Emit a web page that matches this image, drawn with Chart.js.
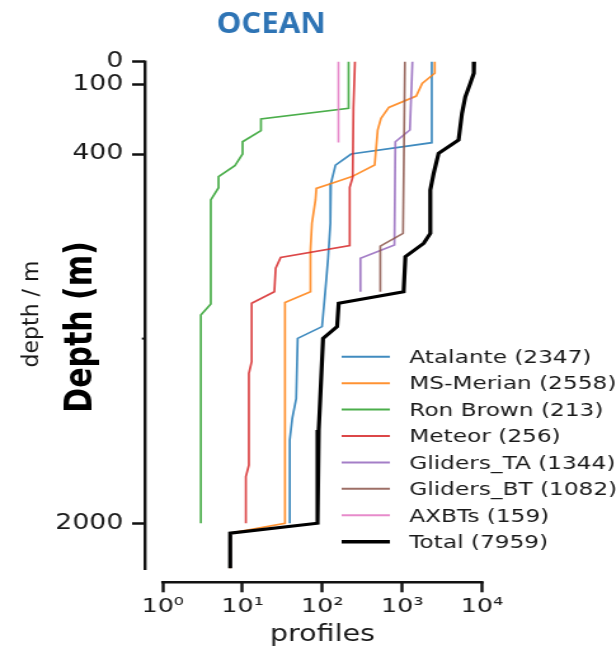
<!DOCTYPE html>
<html lang="en">

<head>
    <meta charset="UTF-8">
    <title>OCEAN</title>
    <script src="https://cdn.jsdelivr.net/npm/chart.js@4.4.1/dist/chart.umd.min.js"></script>
    <style>
        html, body { margin: 0; padding: 0; background: #fff; overflow: hidden; }
        /* the reference is stretched sideways, so the canvas is too */
        #grafico { display: block; transform: scaleX(1.27); transform-origin: 0 0; }
    </style>
</head>

<body>
    <canvas id="grafico" width="485" height="648"></canvas>

<script>
    // series names and profile counts (legend)
    const seriesNames = ['Atalante', 'MS-Merian', 'Ron Brown', 'Meteor', 'Gliders_TA', 'Gliders_BT', 'AXBTs', 'Total'];
    const seriesCounts = [2347, 2558, 213, 256, 1344, 1082, 159, 7959];

    // depth (m) / number of profiles reaching that depth
    const atalanteDepth = [0, 351, 400, 448, 527, 700, 850, 990, 1148, 1199, 1460, 1545, 1640, 2000];
    const atalanteProfiles = [2347, 2347, 229, 146, 128, 126, 118, 109, 99, 49, 47, 42, 39, 39];

    const merianDepth = [0, 50, 94, 149, 198, 245, 296, 448, 498, 527, 549, 599, 700, 816, 997, 1044, 2000, 2043, 2195];
    const merianProfiles = [2558, 2558, 1780, 1500, 680, 543, 493, 452, 235, 132, 84, 82, 74, 71, 71, 34, 34, 7, 7];

    const ronBrownDepth = [0, 202, 248, 299, 347, 400, 451, 498, 546, 599, 1050, 1098, 2000];
    const ronBrownProfiles = [213, 213, 17, 17, 10, 10, 8, 5, 5, 4, 4, 3, 3];

    const meteorDepth = [0, 200, 500, 545, 797, 848, 895, 997, 1047, 1300, 1350, 1748, 1798, 2000];
    const meteorProfiles = [256, 245, 240, 220, 220, 30, 26, 25, 13, 13, 12, 12, 11, 11];

    const glidersTADepth = [0, 296, 347, 794, 852, 997];
    const glidersTAProfiles = [1344, 1250, 821, 800, 300, 300];

    const glidersBTDepth = [0, 744, 799, 997];
    const glidersBTProfiles = [1082, 1025, 532, 532];

    const axbtDepth = [0, 350];
    const axbtProfiles = [159, 159];

    const totalDepth = [0, 50, 94, 152, 224, 339, 397, 484, 556, 744, 787, 845, 997, 1047, 1148, 1199, 1596, 1640, 2000, 2043, 2195];
    const totalProfiles = [7959, 7900, 7130, 6180, 5610, 5090, 2860, 2480, 2250, 2250, 1860, 1096, 1043, 160, 153, 102, 90, 87, 87, 7, 7];

    // axis ticks
    const depthTicks = [0, 100, 400, 2000];
    const depthMinorTick = 1200;
    const depthAxisEnd = 2203;
    const profileTicks = [1, 10, 100, 1000, 10000];
    const profileTickLabels = ['10⁰', '10¹', '10²', '10³', '10⁴'];

    const allDepths = [atalanteDepth, merianDepth, ronBrownDepth, meteorDepth, glidersTADepth, glidersBTDepth, axbtDepth, totalDepth];
    const allProfiles = [atalanteProfiles, merianProfiles, ronBrownProfiles, meteorProfiles, glidersTAProfiles, glidersBTProfiles, axbtProfiles, totalProfiles];

    const cores = [
        'rgba(31, 119, 180, 0.85)',
        'rgba(255, 127, 14, 0.85)',
        'rgba(44, 160, 44, 0.85)',
        'rgba(214, 39, 40, 0.85)',
        'rgba(148, 103, 189, 0.85)',
        'rgba(140, 86, 75, 0.85)',
        'rgba(227, 119, 194, 0.85)',
        '#000000'
    ];

    const texto = '#1a1a1a';

    var datasets = [];
    for (var i = 0; i < seriesNames.length; i++) {
        var pontos = [];
        for (var j = 0; j < allDepths[i].length; j++) {
            pontos.push({ x: allProfiles[i][j], y: allDepths[i][j] });
        }
        datasets.push({
            label: seriesNames[i] + ' (' + seriesCounts[i] + ')',
            data: pontos,
            showLine: true,
            borderColor: cores[i],
            backgroundColor: cores[i],
            borderWidth: i == 7 ? 3.2 : 1.7,
            pointRadius: 0,
            tension: 0,
            clip: false,
            order: -i
        });
    }

    // spines, extra labels, title and legend
    const moldura = {
        id: 'moldura',
        afterDraw(chart) {
            const ctx = chart.ctx;
            const area = chart.chartArea;
            const xs = chart.scales.x;
            const ys = chart.scales.y;
            ctx.save();

            ctx.strokeStyle = '#111';
            ctx.lineCap = 'butt';

            // y spine
            ctx.lineWidth = 2.4;
            ctx.beginPath();
            ctx.moveTo(area.left, ys.getPixelForValue(0) - 1.2);
            ctx.lineTo(area.left, ys.getPixelForValue(depthAxisEnd));
            ctx.stroke();

            // small unlabeled tick
            ctx.lineWidth = 2;
            var ym = ys.getPixelForValue(depthMinorTick);
            ctx.beginPath();
            ctx.moveTo(area.left - 2.5, ym);
            ctx.lineTo(area.left, ym);
            ctx.stroke();

            // x spine
            ctx.lineWidth = 2.5;
            ctx.beginPath();
            ctx.moveTo(xs.getPixelForValue(profileTicks[0]) - 1.2, area.bottom);
            ctx.lineTo(xs.getPixelForValue(profileTicks[profileTicks.length - 1]) + 1.2, area.bottom);
            ctx.stroke();

            // title
            ctx.fillStyle = '#2e74b5';
            ctx.font = 'bold 29px "Open Sans"';
            ctx.textAlign = 'center';
            ctx.textBaseline = 'alphabetic';
            ctx.fillText('OCEAN', 213.4, 33.3, 86);

            // x label
            ctx.fillStyle = texto;
            ctx.font = '22.5px "DejaVu Sans"';
            var xMeio = (xs.getPixelForValue(profileTicks[0]) + xs.getPixelForValue(profileTicks[profileTicks.length - 1])) / 2;
            ctx.fillText('profiles', xMeio, 641);

            // y labels
            ctx.save();
            ctx.translate(25.2, 314);
            ctx.rotate(-Math.PI / 2);
            ctx.scale(1, 0.78);
            ctx.textBaseline = 'middle';
            ctx.font = '22px "DejaVu Sans"';
            ctx.fillText('depth / m', 0, 0);
            ctx.restore();

            ctx.save();
            ctx.translate(64.4, 327);
            ctx.rotate(-Math.PI / 2);
            ctx.textBaseline = 'middle';
            ctx.fillStyle = '#000';
            ctx.font = 'bold 30px "DejaVu Sans"';
            ctx.fillText('Depth (m)', 0, 0);
            ctx.restore();

            // legend
            ctx.font = '18.3px "DejaVu Sans"';
            ctx.textAlign = 'left';
            ctx.textBaseline = 'middle';
            for (var k = 0; k < datasets.length; k++) {
                var y = 356.7 + k * 26.43;
                ctx.strokeStyle = cores[k];
                ctx.lineWidth = k == 7 ? 3.4 : 2;
                ctx.beginPath();
                ctx.moveTo(269, y);
                ctx.lineTo(307, y);
                ctx.stroke();
                ctx.fillStyle = texto;
                ctx.fillText(datasets[k].label, 322.3, y + 1.6);
            }

            ctx.restore();
        }
    };

    const config = {
        type: 'scatter',
        data: { datasets: datasets },
        options: {
            responsive: false,
            animation: false,
            devicePixelRatio: 1,
            events: [],
            layout: { padding: { top: 61.7, right: 91, bottom: 0, left: 0 } },
            plugins: {
                legend: { display: false },
                tooltip: { enabled: false }
            },
            scales: {
                x: {
                    type: 'logarithmic',
                    position: 'bottom',
                    min: 0.61,
                    max: 17000,
                    border: { display: false },
                    grid: {
                        drawOnChartArea: false,
                        drawTicks: true,
                        tickLength: 10,
                        tickWidth: 2.4,
                        tickColor: '#111'
                    },
                    ticks: {
                        autoSkip: false,
                        maxRotation: 0,
                        padding: 2,
                        color: texto,
                        font: { family: 'DejaVu Sans', size: 20 },
                        callback: function (valor, indice) { return profileTickLabels[indice]; }
                    },
                    afterBuildTicks: function (axis) {
                        axis.ticks = profileTicks.map(v => ({ value: v }));
                    },
                    afterFit: function (axis) { axis.height = 65.7; }
                },
                y: {
                    type: 'linear',
                    reverse: true,
                    min: 0,
                    max: 2256,
                    border: { display: false },
                    grid: {
                        drawOnChartArea: false,
                        drawTicks: true,
                        tickLength: 10.2,
                        tickWidth: 2.5,
                        tickColor: '#111'
                    },
                    ticks: {
                        autoSkip: false,
                        padding: 7,
                        color: texto,
                        font: { family: 'DejaVu Sans', size: 21 },
                        callback: function (valor) { return String(valor); }
                    },
                    afterBuildTicks: function (axis) {
                        axis.ticks = depthTicks.map(v => ({ value: v }));
                    },
                    afterFit: function (axis) { axis.width = 114.2; }
                }
            }
        },
        plugins: [moldura]
    };

    const myChart = new Chart(document.getElementById('grafico'), config);
</script>

</body>

</html>
